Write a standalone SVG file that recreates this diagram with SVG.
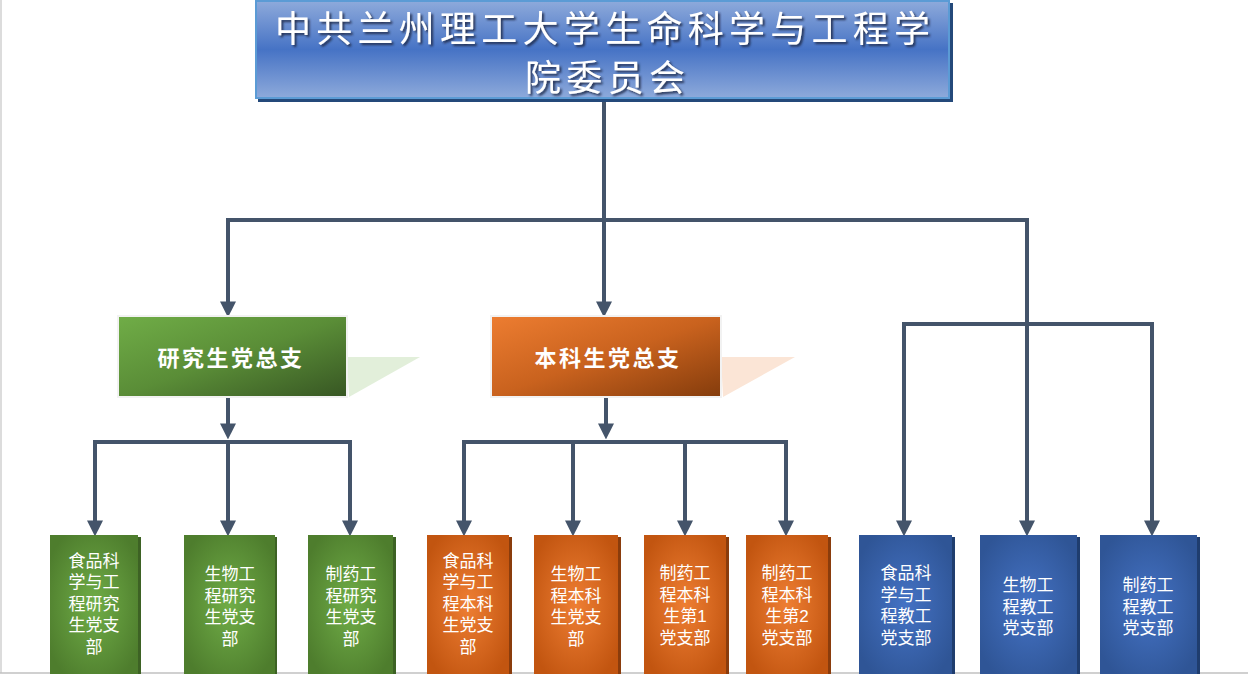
<svg xmlns="http://www.w3.org/2000/svg" width="1248" height="675" viewBox="0 0 1248 675">
<defs>
<style>
.conn{fill:none;stroke:#44546a;stroke-width:4;stroke-linejoin:miter}
.title{font-family:"Noto Sans CJK SC","Noto Sans",sans-serif;font-size:36px;fill:#ffffff}
.mid{font-family:"Noto Sans CJK SC","Noto Sans",sans-serif;font-size:22px;font-weight:bold;fill:#ffffff;text-anchor:middle;letter-spacing:2.5px}
.sm{font-family:"Liberation Sans","Noto Sans CJK SC",sans-serif;font-size:17px;fill:#ffffff;text-anchor:middle}
.midborder{stroke:#f2f2f2;stroke-width:2}
</style>
<linearGradient id="gTitle" x1="0" y1="0" x2="0" y2="1">
<stop offset="0" stop-color="#8eaadb"/>
<stop offset="0.5" stop-color="#4673c5"/>
<stop offset="1" stop-color="#8eaadb"/>
</linearGradient>
<linearGradient id="gGreenMid" x1="0" y1="0" x2="1" y2="1">
<stop offset="0" stop-color="#70ad47"/>
<stop offset="0.5" stop-color="#5a8d37"/>
<stop offset="1" stop-color="#375623"/>
</linearGradient>
<linearGradient id="gOrangeMid" x1="0" y1="0" x2="1" y2="1">
<stop offset="0" stop-color="#ed7d31"/>
<stop offset="0.5" stop-color="#c9621e"/>
<stop offset="1" stop-color="#843c0c"/>
</linearGradient>
<radialGradient id="gGreen" cx="0.5" cy="0.5" r="0.6">
<stop offset="0" stop-color="#70ad47"/>
<stop offset="1" stop-color="#4e7d2d"/>
</radialGradient>
<radialGradient id="gOrange" cx="0.5" cy="0.5" r="0.6">
<stop offset="0" stop-color="#ee7e33"/>
<stop offset="1" stop-color="#c25510"/>
</radialGradient>
<radialGradient id="gBlue" cx="0.5" cy="0.5" r="0.6">
<stop offset="0" stop-color="#4472c4"/>
<stop offset="1" stop-color="#2f5596"/>
</radialGradient>
<filter id="tshadow" x="-5%" y="-20%" width="110%" height="150%">
<feDropShadow dx="2" dy="2" stdDeviation="1" flood-color="#1a2a4a" flood-opacity="0.9"/>
</filter>
<marker id="arrow" markerUnits="userSpaceOnUse" markerWidth="16" markerHeight="16" viewBox="0 0 14 14" refX="4" refY="7" orient="auto">
<path d="M0,0 L14,7 L0,14 z" fill="#44546a"/>
</marker>
</defs>

<rect width="1248" height="675" fill="#ffffff"/>
<line x1="1" y1="0" x2="1" y2="673" stroke="#d0d0d0" stroke-width="1.5"/>
<line x1="0" y1="673" x2="1248" y2="673" stroke="#c0c0c0" stroke-width="1.5"/>

<g id="connectors">
<path class="conn" d="M604,98 V306" marker-end="url(#arrow)"/>
<path class="conn" d="M604,220 H228 V306" marker-end="url(#arrow)"/>
<path class="conn" d="M604,220 H1027 V324"/>
<path class="conn" d="M1027,324 H904 V525" marker-end="url(#arrow)"/>
<path class="conn" d="M1027,324 V525" marker-end="url(#arrow)"/>
<path class="conn" d="M1027,324 H1152 V525" marker-end="url(#arrow)"/>
<path class="conn" d="M228,397 V428" marker-end="url(#arrow)"/>
<path class="conn" d="M228,442 H95 V525" marker-end="url(#arrow)"/>
<path class="conn" d="M228,442 V525" marker-end="url(#arrow)"/>
<path class="conn" d="M228,442 H350 V525" marker-end="url(#arrow)"/>
<path class="conn" d="M606,397 V428" marker-end="url(#arrow)"/>
<path class="conn" d="M606,442 H464 V525" marker-end="url(#arrow)"/>
<path class="conn" d="M573,442 V525" marker-end="url(#arrow)"/>
<path class="conn" d="M606,442 H786 V525" marker-end="url(#arrow)"/>
<path class="conn" d="M685,442 V525" marker-end="url(#arrow)"/>
</g>

<g id="title">
<rect x="258" y="3" width="695" height="99" fill="#24497a"/>
<rect x="256" y="1" width="693" height="97" fill="url(#gTitle)" stroke="#5b9bd5" stroke-width="2"/>
<g filter="url(#tshadow)">
<text class="title" x="275" y="42" textLength="655" lengthAdjust="spacing">中共兰州理工大学生命科学与工程学</text>
<text class="title" x="525" y="91" textLength="160" lengthAdjust="spacing">院委员会</text>
</g>
</g>

<g id="grad-general">
<polygon points="347,357 420,357 349,397" fill="#e2efda"/>
<rect x="118" y="316" width="229" height="81" fill="url(#gGreenMid)" class="midborder"/>
<text class="mid" x="231" y="366">研究生党总支</text>
</g>

<g id="undergrad-general">
<polygon points="721,357 795,357 723,397" fill="#fbe5d6"/>
<rect x="491" y="316" width="230" height="81" fill="url(#gOrangeMid)" class="midborder"/>
<text class="mid" x="608" y="366">本科生党总支</text>
</g>

<g id="g1">
<rect x="52" y="537" width="89" height="140" fill="#3d6224"/>
<rect x="50" y="535" width="88" height="140" fill="url(#gGreen)"/>
<text class="sm" x="94" y="566.5">食品科</text>
<text class="sm" x="94" y="588">学与工</text>
<text class="sm" x="94" y="609.5">程研究</text>
<text class="sm" x="94" y="631">生党支</text>
<text class="sm" x="94" y="652.5">部</text>
</g>
<g id="g2">
<rect x="186" y="537" width="91" height="140" fill="#3d6224"/>
<rect x="184" y="535" width="91" height="140" fill="url(#gGreen)"/>
<text class="sm" x="230" y="580">生物工</text>
<text class="sm" x="230" y="601.5">程研究</text>
<text class="sm" x="230" y="623">生党支</text>
<text class="sm" x="230" y="644.5">部</text>
</g>
<g id="g3">
<rect x="310" y="537" width="86" height="140" fill="#3d6224"/>
<rect x="308" y="535" width="85" height="140" fill="url(#gGreen)"/>
<text class="sm" x="351" y="580">制药工</text>
<text class="sm" x="351" y="601.5">程研究</text>
<text class="sm" x="351" y="623">生党支</text>
<text class="sm" x="351" y="644.5">部</text>
</g>

<g id="o1">
<rect x="429" y="537" width="83" height="140" fill="#8a3c0c"/>
<rect x="427" y="535" width="82" height="140" fill="url(#gOrange)"/>
<text class="sm" x="468" y="566.5">食品科</text>
<text class="sm" x="468" y="588">学与工</text>
<text class="sm" x="468" y="609.5">程本科</text>
<text class="sm" x="468" y="631">生党支</text>
<text class="sm" x="468" y="652.5">部</text>
</g>
<g id="o2">
<rect x="536" y="537" width="85" height="140" fill="#8a3c0c"/>
<rect x="534" y="535" width="84" height="140" fill="url(#gOrange)"/>
<text class="sm" x="576" y="580">生物工</text>
<text class="sm" x="576" y="601.5">程本科</text>
<text class="sm" x="576" y="623">生党支</text>
<text class="sm" x="576" y="644.5">部</text>
</g>
<g id="o3">
<rect x="646" y="537" width="83" height="140" fill="#8a3c0c"/>
<rect x="644" y="535" width="82" height="140" fill="url(#gOrange)"/>
<text class="sm" x="685" y="579">制药工</text>
<text class="sm" x="685" y="600.5">程本科</text>
<text class="sm" x="685" y="622">生第1</text>
<text class="sm" x="685" y="643.5">党支部</text>
</g>
<g id="o4">
<rect x="748" y="537" width="83" height="140" fill="#8a3c0c"/>
<rect x="746" y="535" width="82" height="140" fill="url(#gOrange)"/>
<text class="sm" x="787" y="579">制药工</text>
<text class="sm" x="787" y="600.5">程本科</text>
<text class="sm" x="787" y="622">生第2</text>
<text class="sm" x="787" y="643.5">党支部</text>
</g>

<g id="b1">
<rect x="861" y="537" width="94" height="140" fill="#1f3d6e"/>
<rect x="859" y="535" width="93" height="140" fill="url(#gBlue)"/>
<text class="sm" x="906" y="579">食品科</text>
<text class="sm" x="906" y="600.5">学与工</text>
<text class="sm" x="906" y="622">程教工</text>
<text class="sm" x="906" y="643.5">党支部</text>
</g>
<g id="b2">
<rect x="982" y="537" width="98" height="140" fill="#1f3d6e"/>
<rect x="980" y="535" width="97" height="140" fill="url(#gBlue)"/>
<text class="sm" x="1028" y="591">生物工</text>
<text class="sm" x="1028" y="612.5">程教工</text>
<text class="sm" x="1028" y="634">党支部</text>
</g>
<g id="b3">
<rect x="1102" y="537" width="98" height="140" fill="#1f3d6e"/>
<rect x="1100" y="535" width="97" height="140" fill="url(#gBlue)"/>
<text class="sm" x="1148" y="591">制药工</text>
<text class="sm" x="1148" y="612.5">程教工</text>
<text class="sm" x="1148" y="634">党支部</text>
</g>

<rect x="0" y="674" width="1248" height="1" fill="#ffffff"/>
</svg>
